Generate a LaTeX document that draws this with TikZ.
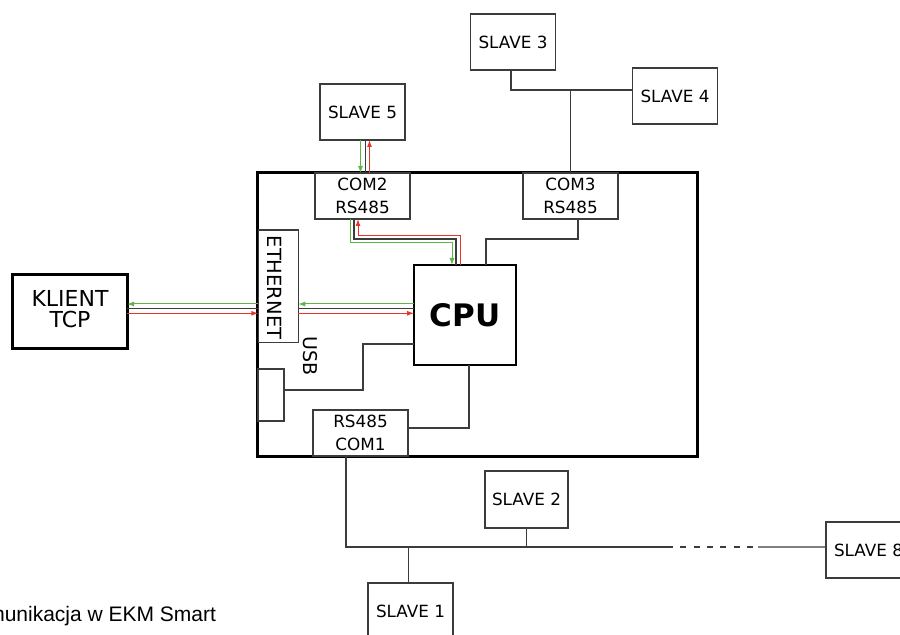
\documentclass[tikz,border=0pt]{standalone}
\usepackage{fontspec}
\setmainfont{DejaVu Sans}
\newfontfamily\captionfont{Liberation Sans}
\usetikzlibrary{arrows.meta}
\definecolor{sigred}{RGB}{232,52,40}
\definecolor{siggreen}{RGB}{92,182,68}
\definecolor{wirecol}{RGB}{60,60,60}

\begin{document}
\begin{tikzpicture}[x=1bp,y=1bp]
   \tikzstyle{every node}=[inner sep=0pt,outer sep=0pt]
   \tikzstyle{unit}=[draw=wirecol,line width=1.3bp,minimum width=85bp,minimum height=56bp,font=\fontsize{16.8bp}{24bp}\selectfont]
   \tikzstyle{port}=[draw=wirecol,line width=1.3bp,minimum width=95bp,minimum height=46bp,align=center,font=\fontsize{16.8bp}{23.5bp}\selectfont]
   \tikzstyle{link}=[draw=wirecol,line width=1.1bp]
   \tikzstyle{tx}=[draw=siggreen,line width=1bp]
   \tikzstyle{rx}=[draw=sigred,line width=1bp]
   \tikzstyle{sigarrow}=[-{Latex[length=7bp,width=5bp]}]

   \useasboundingbox (0,0) rectangle (900,635);
   \clip (0,0) rectangle (900,635);

   \node (board) [draw,line width=3bp,minimum width=440bp,minimum height=284bp] at (477,320) {};
   \node (com2) [port] at (362.5,439) {COM2\\RS485};
   \node (com3) [port,right of=com2,node distance=208bp] {COM3\\RS485};
   \node (slave5) [unit,above of=com2,node distance=84bp] {SLAVE 5};
   \node (slave3) [unit] at (513,593) {SLAVE 3};
   \node (slave4) [unit] at (675,539) {SLAVE 4};
   \node (cpu) [draw,line width=2.2bp,minimum width=102bp,minimum height=100bp,font=\fontsize{31bp}{31bp}\selectfont\bfseries] at (465,320) {CPU};

   \node (eth) [draw=wirecol,line width=1.3bp,minimum width=40bp,minimum height=112.7bp] at (278.3,348.6) {};
   \node (ethlabel) [rotate=-90,font=\fontsize{19.5bp}{19.5bp}\selectfont] at (275,347.5) {ETHERNET};
   \node (klient) [draw,line width=3bp,minimum width=114bp,minimum height=74bp,align=center,text depth=6bp,font=\fontsize{22bp}{21.5bp}\selectfont] at (70,323) {KLIENT\\TCP};
   \node (usbport) [draw=wirecol,line width=1.3bp,minimum width=26bp,minimum height=52bp] at (271,240) {};
   \node (usb) [rotate=-90,font=\fontsize{19bp}{19bp}\selectfont] at (310.5,278.5) {USB};
   \node (com1) [port] at (360.5,202) {RS485\\COM1};

   \node (slave2) [unit,minimum width=83bp,minimum height=57bp] at (526.5,135.5) {SLAVE 2};
   \node (slave1) [unit] at (410.5,24) {SLAVE 1};
   \node (slave8) [unit] at (868.5,85) {SLAVE 8};
   \node (caption) [anchor=base east,font=\captionfont\fontsize{21bp}{21bp}\selectfont] at (216,13) {Komunikacja w EKM Smart};

   % COM3 bus
   \coordinate (bus34) at ([yshift=6bp]slave4.west);
   \draw [link] ([xshift=-2bp]slave3.south) |- (bus34);
   \draw [link] (com3.north) -- (com3.north |- bus34);
   \draw [link] ([xshift=7.5bp]com3.south) -- ++(0,-20bp) -| ([xshift=21bp]cpu.north);

   % COM2 signals
   \draw [tx,sigarrow] ([xshift=-2bp]slave5.south) -- ([xshift=-2bp]com2.north);
   \draw [link] ([xshift=3bp]slave5.south) -- ([xshift=3bp]com2.north);
   \draw [rx,sigarrow] ([xshift=7bp]com2.north) -- ([xshift=7bp]slave5.south);
   \draw [tx,sigarrow] ([xshift=-12.5bp]com2.south) -- ++(0,-24bp) -| ([xshift=-13bp]cpu.north);
   \draw [link] ([xshift=-8.5bp]com2.south) -- ++(0,-20bp) -| ([xshift=-9bp]cpu.north);
   \draw [rx,sigarrow] ([xshift=-4.5bp]cpu.north) -- ++(0,29bp) -| ([xshift=-4.5bp]com2.south);

   % ethernet signals
   \draw [tx,sigarrow] ([yshift=11bp]cpu.west) -- ([yshift=11bp]cpu.west -| eth.east);
   \draw [link] ([yshift=6.3bp]cpu.west) -- ([yshift=6.3bp]cpu.west -| eth.east);
   \draw [rx,sigarrow] ([yshift=1.7bp]cpu.west -| eth.east) -- ([yshift=1.7bp]cpu.west);
   \draw [tx,sigarrow] ([yshift=11bp]cpu.west -| eth.west) -- ([yshift=11bp]cpu.west -| klient.east);
   \draw [link] ([yshift=6.3bp]cpu.west -| eth.west) -- ([yshift=6.3bp]cpu.west -| klient.east);
   \draw [rx,sigarrow] ([yshift=1.7bp]cpu.west -| klient.east) -- ([yshift=1.7bp]cpu.west -| eth.west);

   % USB and COM1
   \draw [link] ([yshift=5bp]usbport.east) -- ++(79bp,0) |- ([yshift=-29bp]cpu.west);
   \draw [link] ([yshift=5bp]com1.east) -| ([xshift=4bp]cpu.south);

   % COM1 bus
   \coordinate (dashA) at (673,88);
   \coordinate (dashB) at (758,88);
   \draw [link] ([xshift=-14.5bp]com1.south) |- (dashA);
   \draw [link,dash pattern=on 6bp off 7.3bp,dash phase=6bp] (dashA) -- (dashB);
   \draw [link] (dashB) -- ([yshift=3bp]slave8.west);
   \draw [link] (slave2.south) -- (slave2.south |- dashA);
   \draw [link] ([xshift=-2bp]slave1.north) -- ([xshift=-2bp]slave1.north |- dashA);

\end{tikzpicture}
\end{document}
